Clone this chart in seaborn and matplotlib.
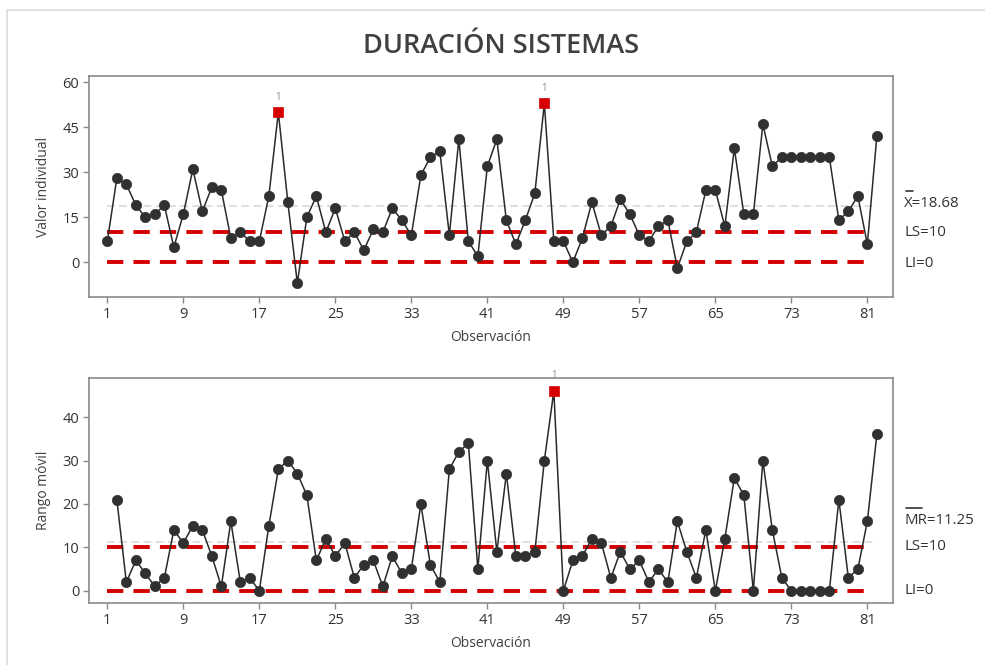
import numpy as np
import pandas as pd
import matplotlib
matplotlib.use("Agg")
import matplotlib.pyplot as plt
from matplotlib.lines import Line2D
from matplotlib.patches import Rectangle
import seaborn as sns

# ---------------- data ----------------
title = "DURACIÓN SISTEMAS"
observations = list(range(1, 83))
individual_values = [7, 28, 26, 19, 15, 16, 19, 5, 16, 31,
                     17, 25, 24, 8, 10, 7, 7, 22, 50, 20,
                     -7, 15, 22, 10, 18, 7, 10, 4, 11, 10,
                     18, 14, 9, 29, 35, 37, 9, 41, 7, 2,
                     32, 41, 14, 6, 14, 23, 53, 7, 7, 0,
                     8, 20, 9, 12, 21, 16, 9, 7, 12, 14,
                     -2, 7, 10, 24, 24, 12, 38, 16, 16, 46,
                     32, 35, 35, 35, 35, 35, 35, 14, 17, 22,
                     6, 42]
mr_observations = list(range(2, 83))
moving_range = [21, 2, 7, 4, 1, 3, 14, 11, 15,
                14, 8, 1, 16, 2, 3, 0, 15, 28, 30,
                27, 22, 7, 12, 8, 11, 3, 6, 7, 1,
                8, 4, 5, 20, 6, 2, 28, 32, 34, 5,
                30, 9, 27, 8, 8, 9, 30, 46, 0, 7,
                8, 12, 11, 3, 9, 5, 7, 2, 5, 2,
                16, 9, 3, 14, 0, 12, 26, 22, 0, 30,
                14, 3, 0, 0, 0, 0, 0, 21, 3, 5,
                16, 36]
flag_individual = [19, 47]
flag_mr = [48]
x_mean = 18.68
mr_mean = 11.25
ls_value = 10
li_value = 0
x_ticks = [1, 9, 17, 25, 33, 41, 49, 57, 65, 73, 81]
i_yticks = [0, 15, 30, 45, 60]
mr_yticks = [0, 10, 20, 30, 40]

df_i = pd.DataFrame({"obs": observations, "val": individual_values})
df_mr = pd.DataFrame({"obs": mr_observations, "val": moving_range})

# ---------------- style ----------------
sns.set_style("white")
plt.rcParams["font.family"] = ["Open Sans", "DejaVu Sans"]
plt.rcParams["axes.edgecolor"] = "#8a8a8a"
plt.rcParams["axes.linewidth"] = 1.2

W, H = 985, 665
fig = plt.figure(figsize=(W / 100, H / 100), dpi=100)

def fx(px):
    return px / W

def fy(py):
    return 1 - py / H

# outer frame
fig.add_artist(Rectangle((fx(7), fy(700)), fx(1100), (700 - 10) / H,
                         transform=fig.transFigure, fill=False,
                         edgecolor="#dcdcdc", linewidth=1.2))

fig.text(fx(501), fy(46), title, ha="center", va="center",
         fontsize=19.5, fontweight="semibold", color="#404040")

LEFT, RIGHT = 89, 893
ax1 = fig.add_axes([fx(LEFT), fy(297), fx(RIGHT - LEFT), (297 - 76) / H])
ax2 = fig.add_axes([fx(LEFT), fy(603), fx(RIGHT - LEFT), (603 - 378) / H])

red = "#d40000"
dot = "#303030"

def draw(ax, df, mean, flags, ylim, yticks, ylabel):
    x0 = observations[0]
    ax.hlines(mean, x0, 82, colors="#d4d4d4", linestyles=(0, (5, 3)),
              linewidth=1.1, zorder=1)
    for lim in (ls_value, li_value):
        ax.hlines(lim, x0, 81.6, colors=red, linestyles=(0, (4.2, 2.6)),
                  linewidth=2.8, zorder=2)
    sns.lineplot(data=df, x="obs", y="val", ax=ax, color="#2a2a2a",
                 linewidth=1.1, zorder=3, legend=False)
    normal = df[~df["obs"].isin(flags)]
    flagged = df[df["obs"].isin(flags)]
    sns.scatterplot(data=normal, x="obs", y="val", ax=ax, color=dot,
                    s=55, edgecolor=dot, linewidth=0.5, zorder=4, legend=False)
    sns.scatterplot(data=flagged, x="obs", y="val", ax=ax, color=red,
                    marker="s", s=48, edgecolor=red, linewidth=0.5,
                    zorder=5, legend=False)
    for _, r in flagged.iterrows():
        ax.annotate("1", (r["obs"], r["val"]), xytext=(0, 7),
                    textcoords="offset points", ha="center", va="bottom",
                    fontsize=7, color="#8c8c8c")
    ax.set_xlim(-0.93, 83.7)
    ax.set_ylim(*ylim)
    ax.set_xticks(x_ticks)
    ax.set_yticks(yticks)
    ax.tick_params(axis="both", direction="out", length=4, width=1,
                   color="#8a8a8a", labelsize=10.5, labelcolor="#333333",
                   bottom=True, left=True, pad=3)
    ax.set_xlabel("Observación", fontsize=10, color="#404040", labelpad=6)
    ax.set_ylabel(ylabel, fontsize=10, color="#404040", labelpad=8)
    for sp in ax.spines.values():
        sp.set_visible(True)
        sp.set_color("#8a8a8a")

draw(ax1, df_i, x_mean, flag_individual, (-11.6, 62.1), i_yticks, "Valor individual")
draw(ax2, df_mr, mr_mean, flag_mr, (-2.8, 49.0), mr_yticks, "Rango móvil")

# right-hand labels
lab_kw = dict(fontsize=10.8, color="#333333", ha="left", va="center")
fig.text(fx(904), fy(204), f"X={x_mean:.2f}", **lab_kw)
fig.add_artist(Line2D([fx(906), fx(913)], [fy(191), fy(191)],
                      transform=fig.transFigure, color="#333333", linewidth=1.2))
fig.text(fx(904), fy(232), f"LS={ls_value}", **lab_kw)
fig.text(fx(904), fy(263), f"LI={li_value}", **lab_kw)

fig.text(fx(904), fy(520), f"MR={mr_mean:.2f}", **lab_kw)
fig.add_artist(Line2D([fx(906), fx(922)], [fy(508), fy(508)],
                      transform=fig.transFigure, color="#333333", linewidth=1.2))
fig.text(fx(904), fy(547), f"LS={ls_value}", **lab_kw)
fig.text(fx(904), fy(590), f"LI={li_value}", **lab_kw)

fig.savefig("out.png", dpi=100)
